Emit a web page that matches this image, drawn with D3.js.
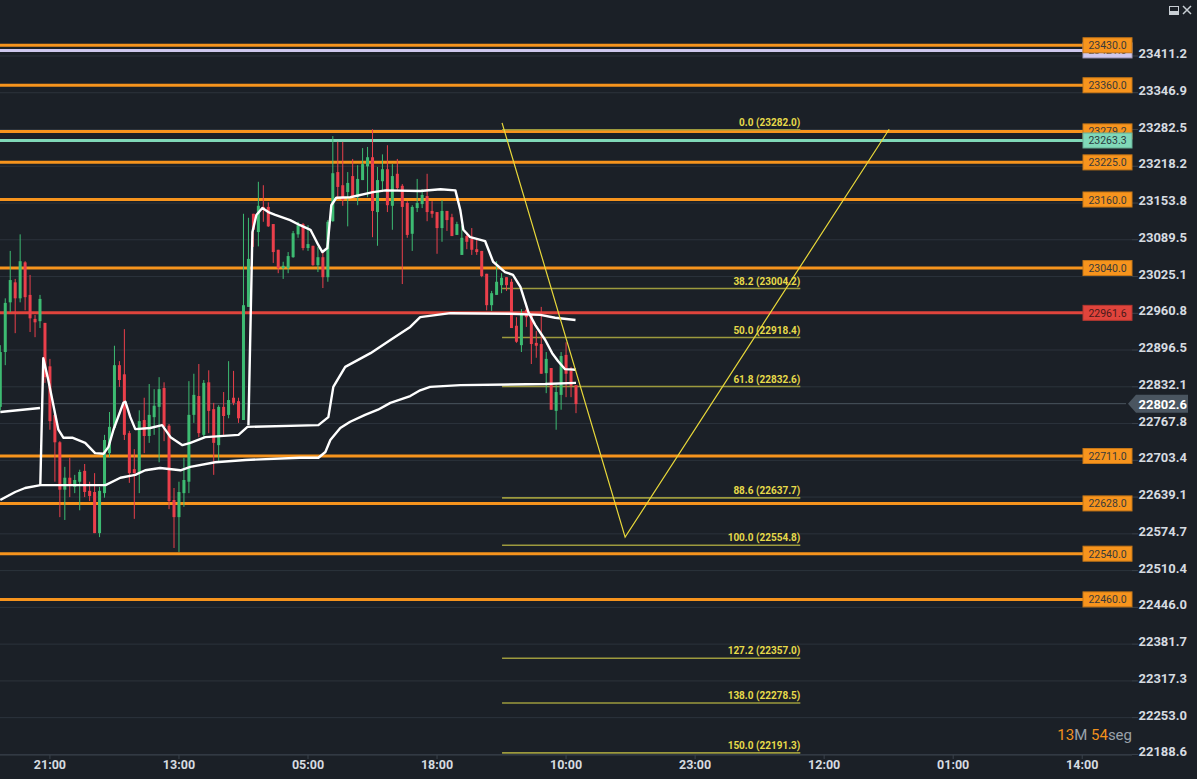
<!DOCTYPE html>
<html>
<head>
<meta charset="utf-8">
<script src="https://cdn.jsdelivr.net/npm/d3@7"></script>
<style>
  body { margin: 0; background: #1b2027; overflow: hidden; }
  svg { display: block; font-family: Roboto, "Noto Sans", sans-serif; }
</style>
</head>
<body>
<svg width="1197" height="779"></svg>
<script>
// candles: [open, high, low, close]
const candles = [
  [22797,22905,22791,22893],[22893,22987,22870,22979],[22980,23070,22963,23019],[23015,23021,22926,22987],
  [22987,23099,22980,23052],[23050,23052,22966,22989],[22993,23028,22928,22952],[22951,22958,22919,22945],
  [22947,22993,22935,22986],[22944,22944,22839,22849],[22868,22881,22757,22772],[22783,22785,22666,22735],
  [22735,22737,22604,22652],[22652,22692,22599,22673],[22673,22708,22639,22662],[22657,22678,22646,22669],
  [22666,22687,22616,22683],[22685,22697,22639,22648],[22650,22666,22632,22641],[22648,22681,22576,22576],
  [22576,22657,22569,22650],[22646,22748,22638,22739],[22716,22788,22709,22762],[22760,22904,22757,22870],
  [22870,22877,22832,22844],[22854,22933,22739,22748],[22751,22755,22664,22681],[22688,22723,22601,22681],
  [22681,22791,22646,22772],[22774,22813,22716,22746],[22746,22837,22734,22783],[22779,22828,22748,22799],
  [22797,22849,22700,22828],[22830,22840,22737,22762],[22764,22767,22618,22632],[22634,22655,22550,22604],
  [22604,22666,22543,22648],[22646,22708,22622,22669],[22666,22842,22646,22783],[22783,22855,22769,22818],
  [22816,22872,22744,22751],[22748,22844,22744,22839],[22840,22861,22751,22790],[22793,22804,22678,22734],
  [22730,22800,22699,22797],[22797,22823,22748,22781],[22783,22877,22777,22809],[22813,22860,22800,22804],
  [22807,22813,22769,22777],[22774,23135,22774,22975],[22972,23128,22972,23056],[23135,23135,23077,23107],
  [23103,23191,23078,23149],[23147,23185,23121,23142],[23147,23155,23112,23113],[23117,23117,23049,23068],
  [23072,23072,23031,23040],[23040,23051,23021,23044],[23040,23068,23031,23061],[23059,23105,23058,23101],
  [23099,23121,23093,23115],[23117,23119,23071,23075],[23075,23115,23070,23082],[23079,23079,23044,23045],
  [23045,23077,23033,23059],[23059,23068,23005,23024],[23024,23124,23016,23121],[23122,23271,23121,23206],
  [23208,23261,23164,23182],[23185,23261,23149,23159],[23173,23208,23113,23189],[23201,23231,23163,23164],
  [23164,23220,23150,23196],[23194,23250,23194,23222],[23218,23252,23164,23234],[23234,23283,23094,23140],
  [23138,23217,23079,23194],[23192,23239,23173,23213],[23213,23255,23138,23150],[23149,23222,23107,23201],
  [23205,23231,23177,23180],[23184,23187,23012,23147],[23154,23157,23093,23098],[23100,23150,23070,23147],
  [23145,23196,23138,23154],[23152,23178,23145,23168],[23166,23205,23122,23138],[23140,23157,23128,23135],
  [23138,23138,23065,23110],[23110,23159,23086,23140],[23140,23140,23105,23124],[23129,23135,23096,23096],
  [23098,23121,23098,23117],[23063,23115,23063,23093],[23096,23103,23073,23086],[23091,23110,23063,23072],
  [23073,23091,23063,23068],[23070,23070,23024,23026],[23030,23030,22966,22975],[22975,23000,22965,22996],
  [22993,23052,22993,23016],[23010,23031,22996,23023],[23024,23024,23000,23010],[23016,23021,22935,22935],
  [22939,22954,22909,22911],[22905,22968,22893,22958],[22967,22979,22937,22954],[22961,22961,22872,22907],
  [22909,22930,22883,22904],[22907,22972,22855,22855],[22856,22893,22821,22881],[22865,22865,22792,22792],
  [22790,22835,22757,22823],[22818,22893,22792,22886],[22888,22910,22814,22855],[22860,22867,22814,22834],
  [22835,22835,22786,22802]
];

// white band lines: [candle index, price]
const bandOld = [[0,22788],[8,22795]];
const bandMid = [[8.06,22660],[8.66,22882],[9.67,22844],[11.7,22757],[12.7,22743],[14.5,22743],[17.1,22734],
  [19.1,22716],[20.8,22715],[21.8,22727],[22.8,22757],[24.8,22804],[25.2,22806],[26.2,22779],[27.2,22758],
  [30.2,22760],[32.6,22765],[34.3,22744],[36.7,22730],[38.3,22734],[41.3,22744],[48,22748],[49.8,22762],
  [64.1,22765],[66.1,22779],[67.1,22832],[69.5,22867],[74.6,22891],[78.6,22914],[82.6,22937],[84.6,22954],
  [90.7,22961],[102.8,22960],[108.8,22958],[111.8,22953],[115.9,22949]];
const bandTop = [[50,22765],[50.8,23103],[51.6,23133],[52.8,23145],[54,23138],[55.4,23133],[58.4,23124],
  [60.4,23115],[62.5,23107],[64.1,23080],[64.9,23068],[65.9,23075],[66.7,23150],[67.7,23163],[70.5,23164],
  [75.1,23173],[77.6,23176],[84.6,23175],[88.7,23178],[91.7,23176],[92.7,23141],[93.3,23107],[94.7,23094],
  [97.7,23087],[99.3,23051],[101.7,23033],[103.3,23028],[104.8,23007],[106.4,22963],[107.8,22940],
  [109.8,22914],[111.2,22891],[112.4,22877],[113.8,22863],[116,22862]];
const bandLow = [[0,22634],[3,22648],[5,22655],[8.1,22660],[21.2,22660],[24.2,22673],[27.2,22678],[29.2,22686],
  [32.2,22690],[36.3,22686],[38.3,22692],[43.3,22700],[49.4,22704],[60.4,22708],[64.1,22708],[65.5,22718],
  [66.5,22739],[68.5,22760],[70.5,22771],[73.5,22783],[76.1,22792],[78.6,22804],[82.6,22816],[84.6,22826],
  [86.6,22832],[92.7,22835],[109.8,22837],[116,22839]];

const orangeLevels = [23430, 23360, 23279.2, 23225, 23160, 23040, 22711, 22628, 22540, 22460];
const lavenderLevel = 23421;
const tealLevel = 23263.3;
const redLevel = 22961.6;
const lastPrice = 22802.6;

const fibPercent = ["0.0", "38.2", "50.0", "61.8", "88.6", "100.0", "127.2", "138.0", "150.0"];
const fibPrice = [23282.0, 23004.2, 22918.4, 22832.6, 22637.7, 22554.8, 22357.0, 22278.5, 22191.3];
const fibRange = [101.1, 161.2];
const zigzag = [[101.1,23294],[125.9,22569],[179.1,23283]];

const yTicks = [23411.2,23346.9,23282.5,23218.2,23153.8,23089.5,23025.1,22960.8,22896.5,22832.1,
  22767.8,22703.4,22639.1,22574.7,22510.4,22446.0,22381.7,22317.3,22253.0,22188.6];
const xTickIndex = [10, 36, 62, 88, 114, 140, 166, 192, 218];
const xTickLabels = ["21:00","13:00","05:00","18:00","10:00","23:00","12:00","01:00","14:00"];

const svg = d3.select("svg");
const x = d3.scaleLinear([0, 116], [0.3, 576]);
const y = d3.scaleLinear([22711, 23411.2], [456, 56]);
const plotRight = 1132, levelRight = 1083;

// grid
svg.append("g").selectAll("line").data(yTicks).join("line")
  .attr("x1", 0).attr("x2", plotRight).attr("y1", d => y(d)).attr("y2", d => y(d))
  .attr("stroke", "#2c333c").attr("stroke-width", 1);
svg.append("g").selectAll("line").data(yTicks).join("line")
  .attr("x1", plotRight).attr("x2", plotRight + 6).attr("y1", d => y(d)).attr("y2", d => y(d))
  .attr("stroke", "#3a424c");

// last price line
svg.append("line").attr("x1", 0).attr("x2", 1126).attr("y1", y(lastPrice)).attr("y2", y(lastPrice))
  .attr("stroke", "#4a555f").attr("stroke-width", 1);

// horizontal levels
const level = (v, color, w) => svg.append("line").attr("x1", 0).attr("x2", levelRight)
  .attr("y1", y(v)).attr("y2", y(v)).attr("stroke", color).attr("stroke-width", w);
level(lavenderLevel, "#cfc8ee", 3);
orangeLevels.forEach(v => level(v, "#f7941d", 3));
level(tealLevel, "#80d8b8", 3);
level(redLevel, "#e0443c", 3);

// fib levels
const fib = svg.append("g");
fib.selectAll("line").data(fibPrice).join("line")
  .attr("x1", x(fibRange[0])).attr("x2", x(fibRange[1]))
  .attr("y1", d => y(d)).attr("y2", d => y(d))
  .attr("stroke", "#9d9a3e").attr("stroke-width", 1.6);
fib.selectAll("text").data(fibPrice).join("text")
  .attr("x", x(fibRange[1])).attr("y", d => y(d) - 4)
  .attr("text-anchor", "end").attr("fill", "#e6d94a")
  .attr("font-size", 10).attr("font-weight", "bold")
  .text((d, i) => `${fibPercent[i]} (${d.toFixed(1)})`);

// candles
const bw = 3;
const cg = svg.append("g").selectAll("g").data(candles).join("g")
  .attr("fill", d => d[3] >= d[0] ? "#3dbb72" : "#ea3f4b")
  .attr("stroke", d => d[3] >= d[0] ? "#3dbb72" : "#ea3f4b");
cg.append("line").attr("x1", (d, i) => x(i)).attr("x2", (d, i) => x(i))
  .attr("y1", d => y(d[1])).attr("y2", d => y(d[2])).attr("stroke-width", 1);
cg.append("rect").attr("x", (d, i) => x(i) - bw / 2).attr("width", bw)
  .attr("y", d => y(Math.max(d[0], d[3])))
  .attr("height", d => Math.max(1, Math.abs(y(d[0]) - y(d[3]))))
  .attr("stroke", "none");

// white bands
const line = d3.line().x(d => x(d[0])).y(d => y(d[1]));
[bandOld, bandMid, bandTop, bandLow].forEach(b =>
  svg.append("path").attr("d", line(b)).attr("fill", "none")
    .attr("stroke", "#ffffff").attr("stroke-width", 2.4).attr("stroke-linejoin", "round"));

// zigzag
svg.append("path").attr("d", line(zigzag)).attr("fill", "none")
  .attr("stroke", "#e8d83a").attr("stroke-width", 1.2);

// level boxes
const box = (v, fill, txtColor) => {
  const g = svg.append("g").attr("transform", `translate(${levelRight},${y(v)})`);
  g.append("rect").attr("x", 0).attr("y", -7.5).attr("width", 49).attr("height", 15)
    .attr("fill", fill).attr("stroke", d3.color(fill).darker(0.6)).attr("stroke-width", 1);
  g.append("text").attr("x", 24.5).attr("y", 4).attr("text-anchor", "middle")
    .attr("font-size", 10.5).attr("fill", txtColor).text(v.toFixed(1));
};
box(lavenderLevel, "#cfc8ee", "#555");
orangeLevels.forEach(v => box(v, "#f7941d", "#3a3a3a"));
box(tealLevel, "#80d8b8", "#2a3a40");
box(redLevel, "#e0443c", "#4a1a1a");

// y axis labels
svg.append("g").selectAll("text").data(yTicks).join("text")
  .attr("x", 1187).attr("y", d => y(d) + 2).attr("text-anchor", "end")
  .attr("font-size", 13).attr("font-weight", "bold").attr("fill", "#d6dbe0")
  .text(d => d.toFixed(1));

// last price tag
const ly = y(lastPrice);
svg.append("path")
  .attr("d", `M1128,${ly} L1136,${ly - 9} L1188,${ly - 9} L1188,${ly + 9} L1136,${ly + 9} Z`)
  .attr("fill", "#4a5560");
svg.append("text").attr("x", 1187).attr("y", ly + 5).attr("text-anchor", "end")
  .attr("font-size", 13).attr("font-weight", "bold").attr("fill", "#ffffff").text(lastPrice.toFixed(1));

// x axis
const axisY = 755;
svg.append("line").attr("x1", 0).attr("x2", plotRight).attr("y1", axisY).attr("y2", axisY)
  .attr("stroke", "#3a424c");
const xt = svg.append("g").selectAll("g").data(xTickIndex).join("g")
  .attr("transform", d => `translate(${x(d)},${axisY})`);
xt.append("line").attr("y1", 0).attr("y2", 4).attr("stroke", "#3a424c");
xt.append("text").attr("y", 14).attr("text-anchor", "middle").attr("font-size", 12.5)
  .attr("font-weight", "bold").attr("fill", "#d6dbe0").text((d, i) => xTickLabels[i]);

// countdown
const cd = svg.append("text").attr("x", plotRight).attr("y", 740).attr("text-anchor", "end")
  .attr("font-size", 15);
cd.append("tspan").attr("fill", "#f0901e").text("13");
cd.append("tspan").attr("fill", "#9aa2aa").text("M ");
cd.append("tspan").attr("fill", "#f0901e").text("54");
cd.append("tspan").attr("fill", "#9aa2aa").text("seg");

// window icons
svg.append("rect").attr("x", 1169).attr("y", 6).attr("width", 10).attr("height", 9).attr("fill", "#c8ced4");
svg.append("rect").attr("x", 1170).attr("y", 7).attr("width", 8).attr("height", 4).attr("fill", "#1b2027");
svg.append("path").attr("d", "M1183,6 L1191,14 M1191,6 L1183,14").attr("stroke", "#c8ced4").attr("stroke-width", 1.5);
</script>
</body>
</html>
